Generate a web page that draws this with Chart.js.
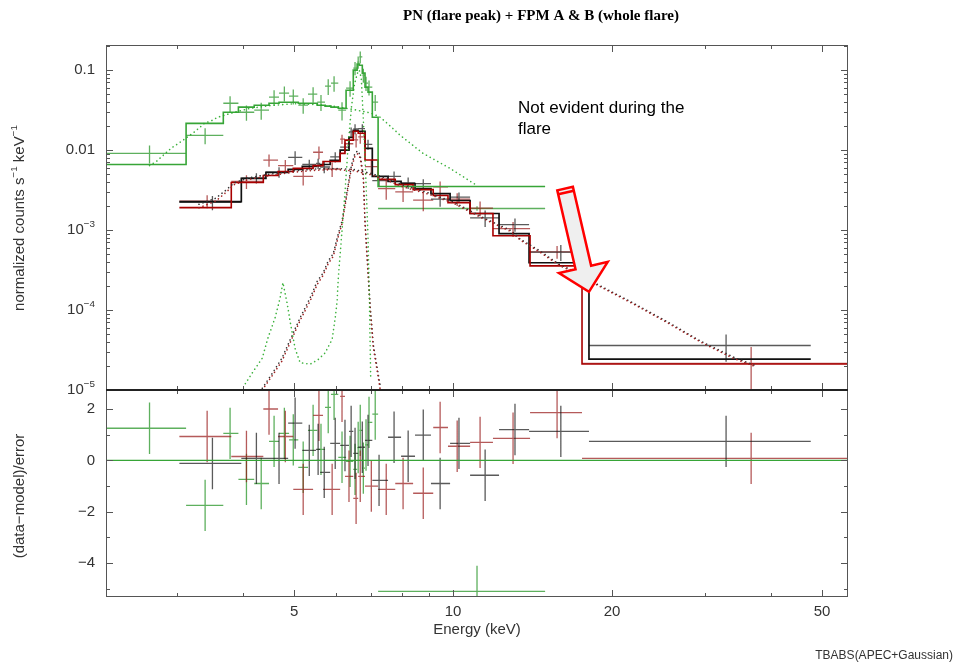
<!DOCTYPE html>
<html>
<head>
<meta charset="utf-8">
<script src="https://cdn.jsdelivr.net/npm/chart.js@4.4.1/dist/chart.umd.min.js"></script>
<style>
  html, body { margin: 0; padding: 0; background: #fff; }
  #wrap { position: relative; width: 961px; height: 664px; }
  #wrap canvas { position: absolute; left: 0; top: 0; }
</style>
</head>
<body>
<div id="wrap">
  <canvas id="spec" width="961" height="664"></canvas>
  <canvas id="resid" width="961" height="664"></canvas>
</div>
<script>
// ---- axes ----
const E_MIN = 2.2, E_MAX = 56;
const majorE = [5, 10, 20, 50];
const minorE = [3, 4, 6, 7, 8, 9, 30, 40];
const energyLabels = ['5', '10', '20', '50'];

const RATE_MIN = 1e-5, RATE_MAX = 0.206;
const rateTicks = [0.1, 0.01, 1e-3, 1e-4, 1e-5];
const rateLabels = [['0.1', ''], ['0.01', ''], ['10', '\u22123'], ['10', '\u22124'], ['10', '\u22125']];

const RES_MIN = -5.32, RES_MAX = 2.74;
const resTicks = [2, 0, -2, -4];
const resLabels = ['2', '0', '\u22122', '\u22124'];
const resMinor = [1, -1, -3, -5];

// ---- PN (flare peak) ----
const pnE    = [2.66, 3.39, 3.78, 4.06, 4.33, 4.58, 4.79, 4.98, 5.20, 5.43, 5.62, 5.80, 5.95, 6.16, 6.38, 6.52, 6.61, 6.67, 6.76, 6.84, 6.93, 7.12, 11.1];
const pnLo   = [2.0, 3.12, 3.67, 3.92, 4.20, 4.48, 4.68, 4.89, 5.09, 5.31, 5.53, 5.72, 5.87, 6.06, 6.27, 6.47, 6.58, 6.64, 6.73, 6.81, 6.90, 7.03, 7.21];
const pnHi   = [3.12, 3.67, 3.92, 4.20, 4.48, 4.68, 4.89, 5.09, 5.31, 5.53, 5.72, 5.87, 6.06, 6.27, 6.47, 6.58, 6.64, 6.73, 6.81, 6.90, 7.03, 7.21, 14.94];
const pnRate = [0.0091, 0.0153, 0.0385, 0.0297, 0.0315, 0.0458, 0.0514, 0.0472, 0.0364, 0.050, 0.0397, 0.063, 0.0687, 0.0315, 0.0594, 0.106, 0.126, 0.146, 0.0866, 0.0687, 0.0612, 0.0397, 0.00186];
const pnErr  = [0.0023, 0.0035, 0.0085, 0.0065, 0.0075, 0.010, 0.011, 0.010, 0.008, 0.011, 0.009, 0.014, 0.015, 0.008, 0.013, 0.020, 0.022, 0.025, 0.017, 0.014, 0.013, 0.009, 0.00012];
const pnModel = [0.0066, 0.0216, 0.0297, 0.0344, 0.0364, 0.0385, 0.0397, 0.0397, 0.0385, 0.0385, 0.0364, 0.0354, 0.0344, 0.0334, 0.056, 0.10, 0.119, 0.115, 0.0917, 0.0612, 0.053, 0.0257, 0.0035];
const pnResid = [1.25, -1.75, 1.05, -0.74, -0.9, 0.74, 1.05, 0.8, -0.27, 1.17, 0.43, 2.06, 2.57, 0.12, -0.04, -0.35, 0.5, 1.17, -0.3, 0.6, 1.48, 1.8, -5.1];

const pnContE    = [2.66, 2.74, 2.92, 3.08, 3.23, 3.38, 3.50, 3.58, 3.80, 4.10, 4.50, 5.00, 5.50, 6.00, 6.50, 7.00, 7.28, 7.60, 7.94, 8.77, 9.87, 11.1];
const pnContRate = [0.0064, 0.0072, 0.0105, 0.0133, 0.0167, 0.0216, 0.0236, 0.0257, 0.029, 0.033, 0.036, 0.038, 0.037, 0.035, 0.032, 0.029, 0.0257, 0.020, 0.0153, 0.0091, 0.0059, 0.0036];
const pnLineE    = [4.04, 4.18, 4.35, 4.46, 4.60, 4.70, 4.76, 4.85, 4.91, 5.02, 5.13, 5.36, 5.55, 5.72, 5.90, 5.98, 6.03, 6.06, 6.11, 6.16, 6.24, 6.33, 6.42, 6.50, 6.58, 6.64, 6.70, 6.75, 6.80, 6.85, 6.90, 6.94, 6.98];
const pnLineRate = [1.2e-5, 1.7e-5, 2.5e-5, 4.5e-5, 8.0e-5, 1.4e-4, 2.2e-4, 1.2e-4, 7.3e-5, 3.3e-5, 2.2e-5, 2.1e-5, 2.4e-5, 2.9e-5, 4.3e-5, 8.0e-5, 1.3e-4, 2.5e-4, 5.0e-4, 9.8e-4, 0.003, 0.012, 0.035, 0.065, 0.09, 0.1, 0.08, 0.03, 0.01, 0.003, 8e-4, 1.5e-4, 1.5e-5];

// ---- FPM A (whole flare) ----
const faE    = [3.50, 4.24, 4.68, 5.02, 5.34, 5.55, 5.70, 5.98, 6.24, 6.41, 6.52, 6.73, 6.90, 7.24, 7.73, 8.22, 8.78, 9.45, 10.26, 11.5, 13.1, 16.0, 32.9];
const faLo   = [3.03, 3.97, 4.42, 4.87, 5.18, 5.50, 5.60, 5.85, 6.11, 6.35, 6.47, 6.61, 6.81, 7.03, 7.53, 7.97, 8.47, 9.08, 9.87, 10.77, 12.22, 13.93, 18.09];
const faHi   = [3.97, 4.42, 4.87, 5.18, 5.50, 5.60, 5.85, 6.11, 6.35, 6.47, 6.61, 6.81, 7.03, 7.53, 7.97, 8.47, 9.08, 9.87, 10.77, 12.22, 13.93, 18.09, 47.6];
const faRate = [0.00222, 0.00447, 0.0053, 0.0081, 0.00662, 0.0068, 0.00614, 0.0082, 0.0109, 0.0169, 0.0184, 0.0185, 0.0118, 0.00415, 0.0047, 0.0039, 0.0038, 0.00243, 0.00258, 0.00142, 0.00117, 0.00053, 3.6e-5];
const faErr  = [0.00045, 0.00066, 0.0008, 0.0016, 0.00094, 0.001, 0.001, 0.0012, 0.0015, 0.0022, 0.0026, 0.0026, 0.0017, 0.0007, 0.0007, 0.00065, 0.00051, 0.00048, 0.00036, 0.00033, 0.00022, 0.00012, 1.35e-5];
const faModel = [0.00227, 0.00442, 0.00525, 0.00573, 0.00625, 0.0064, 0.0066, 0.00743, 0.01, 0.01443, 0.0177, 0.0172, 0.0105, 0.0047, 0.00405, 0.00382, 0.0033, 0.00286, 0.00234, 0.00161, 0.0009, 0.00039, 2.43e-5];
const faResid = [-0.12, 0.08, 0.08, 1.45, 0.39, 0.43, -0.47, 0.66, 0.58, 1.13, 0.27, 0.51, 0.78, -0.78, 0.9, 0.16, 0.98, -0.9, 0.66, -0.58, 1.2, 1.13, 0.74];

// ---- FPM B (whole flare) ----
const fbE    = [3.42, 4.06, 4.48, 4.81, 5.20, 5.57, 5.90, 6.16, 6.35, 6.55, 6.67, 7.0, 7.47, 8.04, 8.78, 9.45, 10.18, 11.25, 12.99, 15.74, 36.7];
const fbLo   = [3.03, 3.80, 4.37, 4.66, 4.98, 5.43, 5.67, 6.11, 6.24, 6.47, 6.61, 6.81, 7.21, 7.77, 8.40, 9.17, 9.78, 10.77, 11.9, 13.99, 17.55];
const fbHi   = [3.80, 4.37, 4.66, 4.98, 5.43, 5.67, 6.11, 6.24, 6.47, 6.61, 6.81, 7.21, 7.77, 8.40, 9.17, 9.78, 10.77, 11.9, 13.99, 17.55, 70];
const fbRate = [0.0023, 0.00406, 0.0075, 0.0064, 0.0047, 0.0094, 0.0058, 0.0137, 0.0120, 0.0134, 0.0146, 0.0062, 0.0033, 0.0030, 0.00237, 0.00346, 0.00244, 0.00188, 0.00104, 0.000535, 2.15e-5];
const fbErr  = [0.00042, 0.0008, 0.0013, 0.0011, 0.0011, 0.0017, 0.0012, 0.0018, 0.0021, 0.0026, 0.0026, 0.0013, 0.0009, 0.00075, 0.00065, 0.0006, 0.00044, 0.00039, 0.00022, 0.000096, 1.3e-5];
const fbModel = [0.00191, 0.00394, 0.00481, 0.0054, 0.0059, 0.0064, 0.0072, 0.0091, 0.0133, 0.0172, 0.0162, 0.0075, 0.0043, 0.0037, 0.0032, 0.0027, 0.0022, 0.00161, 0.00085, 0.000357, 2.11e-5];
const fbResid = [0.93, 0.15, 2.0, 0.93, -1.13, 1.75, -1.13, 2.49, -0.62, -1.48, -0.62, -1.0, -1.13, -0.9, -1.28, 1.28, 0.55, 0.7, 0.86, 1.86, 0.08];

// model components (APEC continuum, Gaussian line) folded through the FPM responses
const fpmContE     = [3.3, 3.55, 3.7, 3.85, 4.1, 4.5, 5.0, 5.5, 6.0, 6.5, 7.0, 7.5, 8.0, 9.0, 10.0, 11.4, 12.9, 13.4, 14.6, 15.9, 16.9, 18.75, 21.9, 25.4, 29.4, 33.9, 37.5];
const faContRate   = [0.0021, 0.0025, 0.0031, 0.0039, 0.0045, 0.0050, 0.0055, 0.0058, 0.0059, 0.0057, 0.0051, 0.0044, 0.0037, 0.0029, 0.00225, 0.00143, 0.00098, 0.00077, 0.00055, 0.00037, 0.00031, 0.00021, 0.000123, 7.2e-5, 4.1e-5, 2.6e-5, 2.0e-5];
const fbContRate   = [0.0019, 0.0023, 0.0029, 0.0037, 0.0043, 0.0048, 0.0053, 0.0056, 0.0057, 0.0055, 0.0049, 0.0042, 0.0035, 0.0028, 0.00218, 0.00139, 0.00095, 0.00075, 0.00053, 0.00036, 0.00030, 0.000205, 0.00012, 7.0e-5, 4.0e-5, 2.5e-5, 1.95e-5];
const fpmLineE     = [4.35, 4.54, 4.74, 4.98, 5.13, 5.36, 5.53, 5.67, 5.80, 5.93, 6.06, 6.16, 6.30, 6.42, 6.52, 6.60, 6.67, 6.76, 6.81, 6.87, 6.96, 7.06, 7.18, 7.28];
const faLineRate   = [1.05e-5, 1.6e-5, 2.5e-5, 5.2e-5, 8.0e-5, 1.42e-4, 2.3e-4, 2.9e-4, 4.1e-4, 5.1e-4, 9.0e-4, 0.0013, 0.0031, 0.0065, 0.0092, 0.0098, 0.0086, 0.0048, 0.0013, 5.0e-4, 1.2e-4, 3.7e-5, 1.9e-5, 1.1e-5];
const fbLineRate   = [1.0e-5, 1.5e-5, 2.3e-5, 4.8e-5, 7.4e-5, 1.3e-4, 2.1e-4, 2.7e-4, 3.8e-4, 4.7e-4, 8.3e-4, 0.0012, 0.0029, 0.006, 0.0085, 0.009, 0.0079, 0.0044, 0.0012, 4.6e-4, 1.1e-4, 3.4e-5, 1.75e-5, 1.0e-5];

// arrow annotation (energy, rate)
const arrowTail = [16.3, 0.0033];
const arrowTip = [18.09, 1.69e-4];

const COL = {
  pn: 'rgba(40,150,40,0.75)', pnModel: 'rgb(55,165,55)', pnDot: 'rgba(40,170,40,0.9)',
  fa: 'rgba(20,20,20,0.7)', faModel: '#111', faDot: '#333',
  fb: 'rgba(150,20,20,0.7)', fbModel: '#a80000', fbDot: '#a02020'
};
const FONT = '"Liberation Sans", Arial, Helvetica, sans-serif';

// ---- dataset builders ----
function crossSet(e, lo, hi, v, err, color) {
  return {
    crosses: true, showLine: false, pointRadius: 0, borderColor: color, borderWidth: 1.3,
    data: e.map((x, i) => ({ x, y: v[i], xMin: lo[i], xMax: hi[i], yMin: v[i] - err[i], yMax: v[i] + err[i] }))
  };
}
function residSet(e, lo, hi, r, color) {
  return {
    crosses: true, showLine: false, pointRadius: 0, borderColor: color, borderWidth: 1.3,
    data: e.map((x, i) => ({ x, y: r[i], xMin: lo[i], xMax: hi[i], yMin: r[i] - 1, yMax: r[i] + 1 }))
  };
}
// histogram model: level of each bin held from its low edge to the next edge
function stepSet(lo, hi, m, color, w) {
  const pts = lo.map((x, i) => ({ x, y: m[i] }));
  pts.push({ x: hi[hi.length - 1], y: m[m.length - 1] });
  return { data: pts, stepped: 'before', borderColor: color, borderWidth: w, pointRadius: 0 };
}
function dotSet(e, v, color) {
  return {
    data: e.map((x, i) => ({ x, y: v[i] })), borderColor: color, borderWidth: 1.6,
    borderDash: [0.1, 4.2], borderCapStyle: 'round', pointRadius: 0, tension: 0
  };
}

// ---- drawing helpers ----
function richWidth(ctx, parts, size) {
  let w = 0;
  parts.forEach(([t, sup]) => { ctx.font = (sup ? size * 0.66 : size) + 'px ' + FONT; w += ctx.measureText(t).width; });
  return w;
}
function drawRich(ctx, parts, x, y, size, align) {
  const w = richWidth(ctx, parts, size);
  let cx = align === 'right' ? x - w : align === 'center' ? x - w / 2 : x;
  ctx.textAlign = 'left';
  ctx.textBaseline = 'middle';
  parts.forEach(([t, sup]) => {
    ctx.font = (sup ? size * 0.66 : size) + 'px ' + FONT;
    ctx.fillText(t, cx, sup ? y - size * 0.36 : y);
    cx += ctx.measureText(t).width;
  });
}

// error crosses, clipped to the plot area
const crossPlugin = {
  id: 'crosses',
  beforeDatasetsDraw(chart) {
    const { ctx, chartArea: a } = chart;
    const xs = chart.scales.x, ys = chart.scales.y;
    const floor = ys.min / 10;
    ctx.save();
    ctx.beginPath();
    ctx.rect(a.left, a.top, a.right - a.left, a.bottom - a.top);
    ctx.clip();
    chart.data.datasets.forEach(ds => {
      if (!ds.crosses) return;
      ctx.strokeStyle = ds.borderColor;
      ctx.lineWidth = ds.borderWidth;
      ctx.beginPath();
      ds.data.forEach(p => {
        const px = xs.getPixelForValue(p.x), py = ys.getPixelForValue(p.y);
        const lo = ys.type === 'logarithmic' ? Math.max(p.yMin, floor) : p.yMin;
        ctx.moveTo(xs.getPixelForValue(p.xMin), py);
        ctx.lineTo(xs.getPixelForValue(p.xMax), py);
        ctx.moveTo(px, ys.getPixelForValue(lo));
        ctx.lineTo(px, ys.getPixelForValue(p.yMax));
      });
      ctx.stroke();
    });
    ctx.restore();
  }
};

// box, inward ticks on all sides, tick labels and axis titles
const framePlugin = {
  id: 'frame',
  afterDraw(chart, args, o) {
    const { ctx, chartArea: a } = chart;
    const xs = chart.scales.x, ys = chart.scales.y;
    ctx.save();
    ctx.strokeStyle = '#555';
    ctx.lineWidth = 1;
    ctx.beginPath();
    ctx.moveTo(a.left + 0.5, a.top); ctx.lineTo(a.left + 0.5, a.bottom);
    ctx.moveTo(a.right - 0.5, a.top); ctx.lineTo(a.right - 0.5, a.bottom);
    if (o.heavy !== 'top') { ctx.moveTo(a.left, a.top + 0.5); ctx.lineTo(a.right, a.top + 0.5); }
    if (o.heavy !== 'bottom') { ctx.moveTo(a.left, a.bottom - 0.5); ctx.lineTo(a.right, a.bottom - 0.5); }
    // energy ticks
    majorE.concat(minorE).forEach(e => {
      const len = majorE.includes(e) ? 7 : 4;
      const px = Math.round(xs.getPixelForValue(e)) + 0.5;
      ctx.moveTo(px, a.top - (o.heavy === 'top' ? len : 0)); ctx.lineTo(px, a.top + len);
      ctx.moveTo(px, a.bottom + (o.heavy === 'bottom' ? len : 0)); ctx.lineTo(px, a.bottom - len);
    });
    // value ticks
    o.yMajor.concat(o.yMinor).forEach((v, i) => {
      const len = i < o.yMajor.length ? 7 : 4;
      const py = Math.round(ys.getPixelForValue(v)) + 0.5;
      if (py < a.top || py > a.bottom + 1) return;
      ctx.moveTo(a.left, py); ctx.lineTo(a.left + len, py);
      ctx.moveTo(a.right, py); ctx.lineTo(a.right - len, py);
    });
    ctx.stroke();
    // divider between the two panels
    ctx.strokeStyle = '#222';
    ctx.lineWidth = 2;
    ctx.beginPath();
    const hy = o.heavy === 'top' ? a.top : a.bottom;
    ctx.moveTo(a.left, hy); ctx.lineTo(a.right, hy);
    ctx.stroke();

    // tick labels
    ctx.fillStyle = '#333';
    o.labels.forEach((lab, i) => {
      const py = ys.getPixelForValue(o.yMajor[i]);
      drawRich(ctx, [[lab[0], false], [lab[1], true]], a.left - 11, py, 15, 'right');
    });
    // axis title
    ctx.save();
    ctx.translate(20, o.titleY);
    ctx.rotate(-Math.PI / 2);
    drawRich(ctx, o.title, 0, 0, 15, 'center');
    ctx.restore();
    ctx.restore();
  }
};

// title, annotation text and arrow on the spectrum panel
const notePlugin = {
  id: 'note',
  afterDraw(chart) {
    const { ctx } = chart;
    const xs = chart.scales.x, ys = chart.scales.y;
    ctx.save();
    ctx.fillStyle = '#000';
    ctx.font = 'bold 15px "Liberation Serif", "Times New Roman", serif';
    ctx.textAlign = 'center';
    ctx.textBaseline = 'middle';
    ctx.fillText('PN (flare peak) + FPM A & B (whole flare)', 541, 16);

    ctx.font = '17px ' + FONT;
    ctx.textAlign = 'left';
    ctx.fillText('Not evident during the', 518, 108);
    ctx.fillText('flare', 518, 129);

    const tx = xs.getPixelForValue(arrowTail[0]), ty = ys.getPixelForValue(arrowTail[1]);
    const hx = xs.getPixelForValue(arrowTip[0]), hy = ys.getPixelForValue(arrowTip[1]);
    const L = Math.hypot(hx - tx, hy - ty);
    const ux = (hx - tx) / L, uy = (hy - ty) / L;
    const nx = -uy, ny = ux;
    const w = 8, hw = 25, hl = 25;
    const nkx = hx - ux * hl, nky = hy - uy * hl;
    ctx.beginPath();
    ctx.moveTo(tx + nx * w, ty + ny * w);
    ctx.lineTo(nkx + nx * w, nky + ny * w);
    ctx.lineTo(nkx + nx * hw, nky + ny * hw);
    ctx.lineTo(hx, hy);
    ctx.lineTo(nkx - nx * hw, nky - ny * hw);
    ctx.lineTo(nkx - nx * w, nky - ny * w);
    ctx.lineTo(tx - nx * w, ty - ny * w);
    ctx.closePath();
    ctx.fillStyle = '#efefef';
    ctx.fill();
    ctx.strokeStyle = '#ff0000';
    ctx.lineWidth = 2.5;
    ctx.lineJoin = 'miter';
    ctx.stroke();
    ctx.beginPath();
    ctx.moveTo(tx + nx * w + ux * 4, ty + ny * w + uy * 4);
    ctx.lineTo(tx - nx * w + ux * 4, ty - ny * w + uy * 4);
    ctx.stroke();
    ctx.restore();
  }
};

// energy axis labels under the residual panel
const energyPlugin = {
  id: 'energy',
  afterDraw(chart) {
    const { ctx, chartArea: a } = chart;
    const xs = chart.scales.x;
    ctx.save();
    ctx.fillStyle = '#333';
    ctx.font = '15px ' + FONT;
    ctx.textAlign = 'center';
    ctx.textBaseline = 'middle';
    majorE.forEach((e, i) => ctx.fillText(energyLabels[i], xs.getPixelForValue(e), a.bottom + 15));
    ctx.fillText('Energy (keV)', (a.left + a.right) / 2, a.bottom + 33);
    ctx.font = '12px ' + FONT;
    ctx.textAlign = 'right';
    ctx.fillText('TBABS(APEC+Gaussian)', 953, 656);
    ctx.restore();
  }
};

const rateMinor = [];
[1e-5, 1e-4, 1e-3, 1e-2, 1e-1].forEach(d => {
  for (let k = 2; k <= 9; k++) if (k * d <= RATE_MAX) rateMinor.push(k * d);
});

function baseOptions(padding, yScale, frame) {
  return {
    responsive: false,
    animation: false,
    events: [],
    layout: { padding },
    scales: {
      x: { type: 'logarithmic', min: E_MIN, max: E_MAX, display: false },
      y: Object.assign({ display: false }, yScale)
    },
    plugins: { legend: { display: false }, tooltip: { enabled: false }, frame }
  };
}

new Chart(document.getElementById('spec'), {
  type: 'line',
  data: {
    datasets: [
      crossSet(pnE, pnLo, pnHi, pnRate, pnErr, COL.pn),
      crossSet(fbE, fbLo, fbHi, fbRate, fbErr, COL.fb),
      crossSet(faE, faLo, faHi, faRate, faErr, COL.fa),
      dotSet(pnContE, pnContRate, COL.pnDot),
      dotSet(pnLineE, pnLineRate, COL.pnDot),
      dotSet(fpmContE, fbContRate, COL.fbDot),
      dotSet(fpmContE, faContRate, COL.faDot),
      dotSet(fpmLineE, fbLineRate, COL.fbDot),
      dotSet(fpmLineE, faLineRate, COL.faDot),
      stepSet(pnLo, pnHi, pnModel, COL.pnModel, 1.6),
      stepSet(fbLo, fbHi, fbModel, COL.fbModel, 1.6),
      stepSet(faLo, faHi, faModel, COL.faModel, 1.7)
    ]
  },
  options: baseOptions(
    { left: 106, right: 113, top: 45, bottom: 274 },
    { type: 'logarithmic', min: RATE_MIN, max: RATE_MAX },
    {
      heavy: 'bottom', yMajor: rateTicks, yMinor: rateMinor, labels: rateLabels, titleY: 218,
      title: [['normalized counts s', false], ['\u22121', true], [' keV', false], ['\u22121', true]]
    }
  ),
  plugins: [crossPlugin, framePlugin, notePlugin]
});

new Chart(document.getElementById('resid'), {
  type: 'line',
  data: {
    datasets: [
      residSet(pnE, pnLo, pnHi, pnResid, COL.pn),
      residSet(fbE, fbLo, fbHi, fbResid, COL.fb),
      residSet(faE, faLo, faHi, faResid, COL.fa),
      { data: [{ x: E_MIN, y: 0 }, { x: E_MAX, y: 0 }], borderColor: COL.pnModel, borderWidth: 1.3, pointRadius: 0 }
    ]
  },
  options: baseOptions(
    { left: 106, right: 113, top: 390, bottom: 67 },
    { type: 'linear', min: RES_MIN, max: RES_MAX },
    {
      heavy: 'top', yMajor: resTicks, yMinor: resMinor, labels: resLabels.map(s => [s, '']), titleY: 496,
      title: [['(data\u2212model)/error', false]]
    }
  ),
  plugins: [crossPlugin, framePlugin, energyPlugin]
});
</script>
</body>
</html>
